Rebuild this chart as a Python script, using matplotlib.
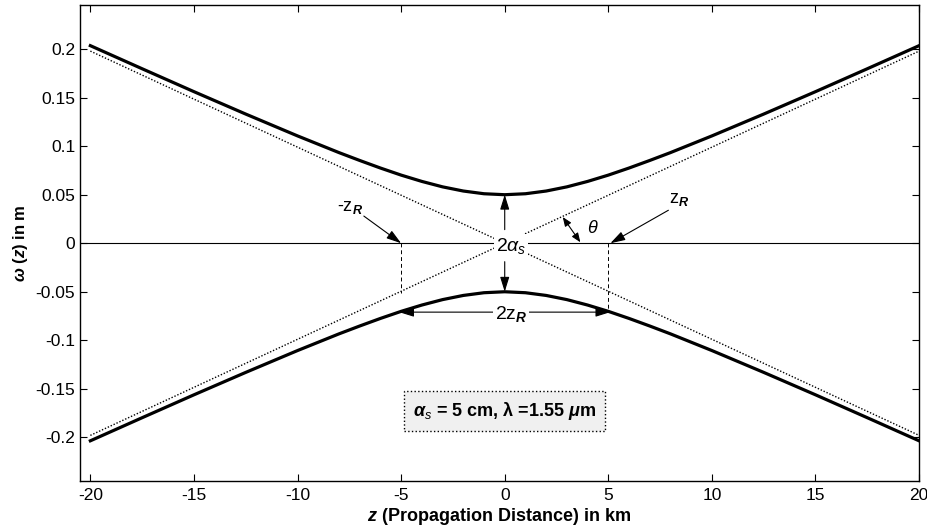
import matplotlib
matplotlib.use('Agg')
import matplotlib.pyplot as plt

plt.rcParams['font.family'] = ['Liberation Sans', 'DejaVu Sans']
plt.rcParams['mathtext.fontset'] = 'custom'
plt.rcParams['mathtext.rm'] = 'Liberation Sans'
plt.rcParams['mathtext.it'] = 'Liberation Sans:italic'
plt.rcParams['mathtext.bf'] = 'Liberation Sans:bold'
plt.rcParams['mathtext.bfit'] = 'Liberation Sans:bold:italic'

# beam half-width (km, m)
z_km = [-20, -17.5, -15, -12.5, -10, -8, -7, -6, -5, -4, -3, -2, -1, 0,
        1, 2, 3, 4, 5, 6, 7, 8, 10, 12.5, 15, 17.5, 20]
w_top = [0.2036, 0.1798, 0.1562, 0.1331, 0.1106, 0.0934, 0.0853, 0.0775, 0.0702,
         0.0637, 0.0581, 0.0538, 0.0510, 0.0500, 0.0510, 0.0538, 0.0581, 0.0637,
         0.0702, 0.0775, 0.0853, 0.0934, 0.1106, 0.1331, 0.1562, 0.1798, 0.2036]
w_bot = [-v for v in w_top]

# far-field asymptotes (dotted)
asym_z = [-20, 20]
asym_up = [-0.198, 0.198]
asym_dn = [0.198, -0.198]

# z_R markers
zr_marks = [-5, 5]
zr_ends = [-0.051, -0.070]

xticks = [-20, -15, -10, -5, 0, 5, 10, 15, 20]
yticks = [-0.2, -0.15, -0.1, -0.05, 0, 0.05, 0.1, 0.15, 0.2]
ytick_labels = ['-0.2', '-0.15', '-0.1', '-0.05', '0', '0.05', '0.1', '0.15', '0.2']
xtick_labels = ['-20', '-15', '-10', '-5', '0', '5', '10', '15', '20']

fig = plt.figure(figsize=(9.28, 5.32), dpi=100)
ax = fig.add_axes([0.0862, 0.0959, 0.9042, 0.8947])

ax.axhline(0, color='black', lw=0.8, zorder=1)
ax.plot(asym_z, asym_up, color='black', lw=1.0, ls=(0, (1, 1.3)), zorder=1)
ax.plot(asym_z, asym_dn, color='black', lw=1.0, ls=(0, (1, 1.3)), zorder=1)
for zm, ze in zip(zr_marks, zr_ends):
    ax.plot([zm, zm], [0, ze], color='black', lw=0.7, ls=(0, (4, 3)), zorder=1)
ax.plot(z_km, w_top, color='black', lw=2.3, zorder=3)
ax.plot(z_km, w_bot, color='black', lw=2.3, zorder=3)

arrow = dict(arrowstyle='-|>,head_length=0.9,head_width=0.28', color='black', lw=0.8,
             shrinkA=0, shrinkB=0)
darrow = dict(arrowstyle='<|-|>,head_length=0.9,head_width=0.28', color='black', lw=0.8,
              shrinkA=0, shrinkB=0)
small_darrow = dict(arrowstyle='<|-|>,head_length=0.55,head_width=0.22', color='black', lw=0.8,
                    shrinkA=0, shrinkB=0)

# -z_R and z_R labels
ax.annotate('', xy=(-5.0, 0), xytext=(-6.8, 0.028), arrowprops=arrow)
ax.text(-7.45, 0.037, r'-z$_{\boldsymbol{R}}$', fontsize=13, ha='center', va='center')
ax.annotate('', xy=(5.1, 0), xytext=(7.9, 0.034), arrowprops=arrow)
ax.text(8.4, 0.045, r'z$_{\boldsymbol{R}}$', fontsize=13, ha='center', va='center')

# theta
ax.annotate('', xy=(3.65, 0.001), xytext=(2.8, 0.027), arrowprops=small_darrow)
ax.text(4.25, 0.0155, r'$\theta$', fontsize=13, ha='center', va='center',
        family='DejaVu Serif', style='italic')

# waist 2*alpha_s
ax.annotate('', xy=(0, 0.05), xytext=(0, 0.014), arrowprops=arrow, zorder=4)
ax.annotate('', xy=(0, -0.05), xytext=(0, -0.019), arrowprops=arrow, zorder=4)
ax.text(0.3, -0.003, r'2$\alpha_s$', fontsize=14, ha='center', va='center', zorder=5,
        bbox=dict(facecolor='white', edgecolor='none', pad=1.5))

# 2 z_R
ax.annotate('', xy=(5.1, -0.071), xytext=(-5.1, -0.071), arrowprops=darrow, zorder=4)
ax.text(0.3, -0.073, r'2z$_{\boldsymbol{R}}$', fontsize=14, ha='center', va='center', zorder=5,
        bbox=dict(facecolor='white', edgecolor='none', pad=1.5))

ax.text(0, -0.173, r'$\boldsymbol{\alpha}_s$ = 5 cm, $\boldsymbol{\lambda}$ =1.55 $\boldsymbol{\mu}$m',
        fontsize=13, fontweight='bold', ha='center', va='center',
        bbox=dict(facecolor='#f0f0f0', edgecolor='black', linestyle=':', lw=1.0,
                  boxstyle='square,pad=0.5'))

ax.set_xlim(-20.5, 20)
ax.set_ylim(-0.245, 0.2455)
ax.set_xticks(xticks)
ax.set_xticklabels(xtick_labels)
ax.set_yticks(yticks)
ax.set_yticklabels(ytick_labels)
ax.tick_params(direction='in', top=True, right=True, length=5, width=0.8, labelsize=12.5)
ax.tick_params(axis='x', pad=5)
for s in ax.spines.values():
    s.set_linewidth(1.0)

ax.set_xlabel(r'$\boldsymbol{z}$ (Propagation Distance) in km', fontsize=13, fontweight='bold',
              labelpad=2)
ax.set_ylabel(r'$\boldsymbol{\omega}$ $\boldsymbol{(z)}$ in m', fontsize=12, fontweight='bold',
              labelpad=4)

fig.savefig('out.png', dpi=100)
